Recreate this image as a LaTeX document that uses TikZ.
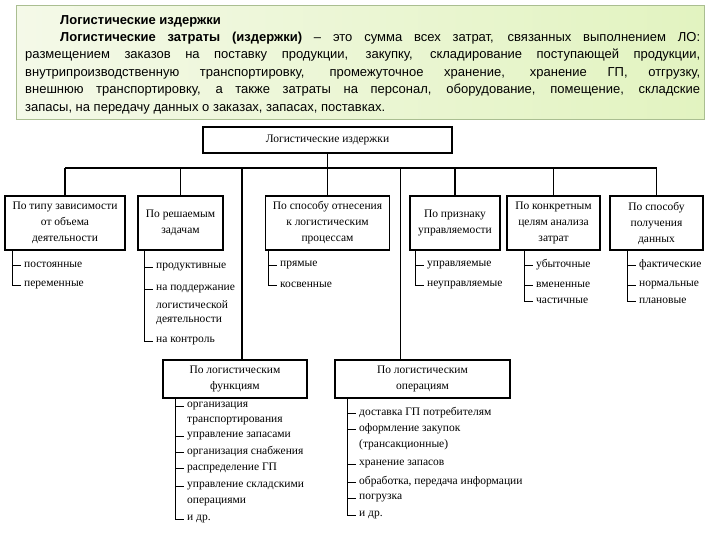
\documentclass[tikz,border=0pt]{standalone}
\usepackage{fontspec}
\setmainfont{Liberation Serif}
\newfontfamily\headfont{Liberation Sans}
\usetikzlibrary{positioning}
\definecolor{gleft}{RGB}{244,249,232}
\definecolor{gright}{RGB}{226,243,192}
\definecolor{gline}{RGB}{170,190,145}

\begin{document}
\begin{tikzpicture}[
  x=1pt, y=-1pt,
  font=\fontsize{11.5}{16}\selectfont,
  cat/.style={draw, line width=1.5pt, align=center, inner sep=2pt, minimum height=54pt},
  item/.style={anchor=west, inner sep=3pt},
  tree/.style={line width=1pt},
  conn/.style={line width=1.3pt},
]
\useasboundingbox (0,0) rectangle (720,540);

% definition block
\node[draw=gline, left color=gleft, right color=gright, anchor=north west,
      minimum width=688pt, minimum height=114pt] (head) at (16,5) {};
\node[anchor=north west, text width=675pt, align=justify, inner sep=0pt,
      font=\headfont\fontsize{13}{17.4}\selectfont] (defn) at (25,15) {%
\hspace*{35pt}\textbf{Логистические издержки}\\
\hspace*{35pt}\textbf{Логистические затраты (издержки)} – это сумма всех затрат, связанных выполнением ЛО:\linebreak
размещением заказов на поставку продукции, закупку, складирование поступающей продукции,\linebreak
внутрипроизводственную транспортировку, промежуточное хранение, хранение ГП, отгрузку,\linebreak
внешнюю транспортировку, а также затраты на персонал, оборудование, помещение, складские\linebreak
запасы, на передачу данных о заказах, запасах, поставках.};

% classification boxes
\node[cat, minimum width=249pt, minimum height=26pt] (main) at (327.5,140) {Логистические издержки};
\node[cat, minimum width=120pt] (typ) at (65,223) {По типу зависимости\\от объема\\деятельности};
\node[cat, minimum width=85pt] (task) at (180.5,223) {По решаемым\\задачам};
\node[cat, minimum width=124pt] (proc) at (327.5,223) {По способу отнесения\\к логистическим\\процессам};
\node[cat, minimum width=90pt] (ctrl) at (455,223) {По признаку\\управляемости};
\node[cat, minimum width=93pt] (goal) at (553.5,223) {По конкретным\\целям анализа\\затрат};
\node[cat, minimum width=93pt] (data) at (656.5,223) {По способу\\получения\\данных};
\node[cat, minimum width=144pt, minimum height=38pt] (func) at (235,379) {По логистическим\\функциям};
\node[cat, minimum width=175pt, minimum height=38pt] (oper) at (422.5,379) {По логистическим\\операциям};

% bus
\coordinate (busL) at (65,168);
\coordinate (busR) at (657,168);
\draw[conn] (busL) -- (busR);
\draw[conn] (main.south) -- (main.south |- busL);
\foreach \c in {typ,task,proc,ctrl,goal,data}
  \draw[conn] (\c.north) -- (\c.north |- busL);
\draw[conn] ([xshift=7pt]func.north) -- ([xshift=7pt]func.north |- busL);
\draw[conn] ([xshift=-22pt]oper.north) -- ([xshift=-22pt]oper.north |- busL);

% lists
\coordinate (s1) at (12,0);
\foreach \n/\y/\t in {a/265/постоянные, b/285/переменные} {
  \node[item] (typ\n) at (21,\y) {\t};
  \draw[tree] (typ\n.west -| s1) -- (typ\n.west);
}
\draw[tree] (typ.south -| s1) -- (typb.west -| s1);

\coordinate (s2) at (144,0);
\foreach \n/\y/\t in {a/267/продуктивные, b/289/на поддержание, c/341/на контроль} {
  \node[item] (task\n) at (153,\y) {\t};
  \draw[tree] (task\n.west -| s2) -- (task\n.west);
}
\node[item] (taskb2) at (153,305) {логистической};
\node[item] (taskb3) at (153,321) {деятельности};
\draw[tree] (task.south -| s2) -- (taskc.west -| s2);

\coordinate (s3) at (268,0);
\foreach \n/\y/\t in {a/265/прямые, b/285/косвенные} {
  \node[item] (proc\n) at (277,\y) {\t};
  \draw[tree] (proc\n.west -| s3) -- (proc\n.west);
}
\draw[tree] (proc.south -| s3) -- (procb.west -| s3);

\coordinate (s4) at (415,0);
\foreach \n/\y/\t in {a/265/управляемые, b/285/неуправляемые} {
  \node[item] (ctrl\n) at (424,\y) {\t};
  \draw[tree] (ctrl\n.west -| s4) -- (ctrl\n.west);
}
\draw[tree] (ctrl.south -| s4) -- (ctrlb.west -| s4);

\coordinate (s5) at (524,0);
\foreach \n/\y/\t in {a/265/убыточные, b/285/вмененные, c/301/частичные} {
  \node[item] (goal\n) at (533,\y) {\t};
  \draw[tree] (goal\n.west -| s5) -- (goal\n.west);
}
\draw[tree] (goal.south -| s5) -- (goalc.west -| s5);

\coordinate (s6) at (627,0);
\foreach \n/\y/\t in {a/265/фактические, b/285/нормальные, c/301/плановые} {
  \node[item] (data\n) at (636,\y) {\t};
  \draw[tree] (data\n.west -| s6) -- (data\n.west);
}
\draw[tree] (data.south -| s6) -- (datac.west -| s6);

\coordinate (s7) at (175,0);
\foreach \n/\y/\t in {a/406/организация, b/436/управление запасами, c/452/организация снабжения,
                      d/468/распределение ГП, e/486/управление складскими, f/519/и др.} {
  \node[item] (func\n) at (184,\y) {\t};
  \draw[tree] (func\n.west -| s7) -- (func\n.west);
}
\node[item] (funca2) at (184,421) {транспортирования};
\node[item] (funce2) at (184,502) {операциями};
\draw[tree] (func.south -| s7) -- (funcf.west -| s7);

\coordinate (s8) at (347,0);
\foreach \n/\y/\t in {a/413/доставка ГП потребителям, b/429/оформление закупок, c/464/хранение запасов,
                      d/482/{обработка, передача информации}, e/498/погрузка, f/515/и др.} {
  \node[item] (oper\n) at (356,\y) {\t};
  \draw[tree] (oper\n.west -| s8) -- (oper\n.west);
}
\node[item] (operb2) at (356,445) {(трансакционные)};
\draw[tree] (oper.south -| s8) -- (operf.west -| s8);
\end{tikzpicture}
\end{document}
